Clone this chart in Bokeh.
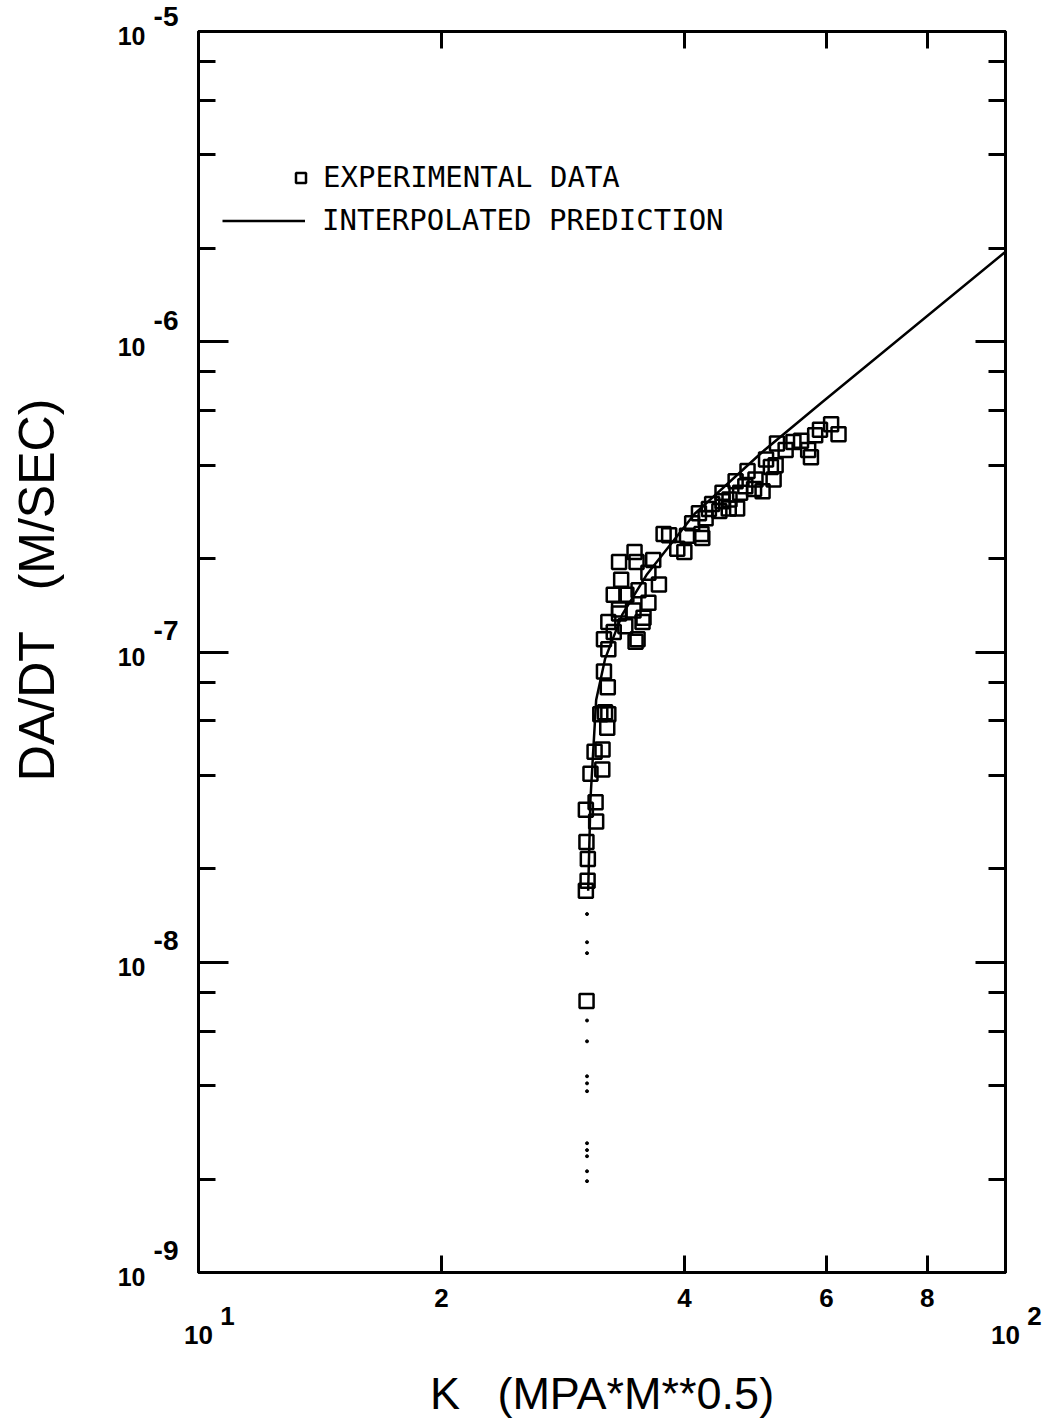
import json
import math
from bokeh.plotting import figure
from bokeh.models import (Range1d, LogAxis, FixedTicker, CustomJSTickFormatter,
                          Legend, LegendItem)
from bokeh.embed import file_html
from bokeh.resources import INLINE

# ---------------- data ----------------
exp_k = [30.26, 30.2, 30.35, 30.37, 30.25, 31.1, 30.2, 31.05, 30.6, 31.65,
         30.96, 31.67, 32.1, 31.9, 31.47, 32.2, 32.15, 31.8, 32.2, 32.7,
         33.2, 34.8, 35.5, 36.1, 31.8, 32.2, 33.8, 35.0, 33.2, 34.6,
         35.6, 37.2, 35.1, 36.1, 33.2, 34.9, 34.7, 37.7, 38.3, 40.3,
         42.0, 40.0, 40.9, 41.7, 42.5, 43.3, 44.2, 44.6, 45.5, 46.5,
         46.9, 47.6, 48.8, 50.5, 51.9, 51.6, 53.4, 54.6, 55.8, 56.95,
         58.1, 58.9, 60.8, 62.1, 57.4, 52.1, 51.2, 46.3, 45.4, 42.9,
         42.1, 44.6, 49.0, 47.9, 50.0, 33.4, 33.9, 32.7, 36.6, 39.2]
exp_rate = [7.5e-9, 1.70e-8, 1.83e-8, 2.15e-8, 2.44e-8, 2.84e-8, 3.1e-8, 3.28e-8, 4.05e-8, 4.18e-8,
            4.77e-8, 4.85e-8, 5.7e-8, 6.4e-8, 6.3e-8, 6.3e-8, 7.7e-8, 8.65e-8, 1.02e-7, 1.16e-7,
            1.33e-7, 1.08e-7, 1.25e-7, 1.44e-7, 1.1e-7, 1.25e-7, 1.21e-7, 1.1e-7, 1.37e-7, 1.36e-7,
            1.29e-7, 1.65e-7, 1.58e-7, 1.8e-7, 1.95e-7, 1.95e-7, 2.1e-7, 2.4e-7, 2.38e-7, 2.37e-7,
            2.4e-7, 2.1e-7, 2.6e-7, 2.8e-7, 2.7e-7, 3.0e-7, 2.85e-7, 3.26e-7, 3.1e-7, 2.9e-7,
            3.26e-7, 3.42e-7, 3.35e-7, 4.17e-7, 4.0e-7, 3.6e-7, 4.48e-7, 4.75e-7, 4.8e-7, 4.48e-7,
            5.0e-7, 5.2e-7, 5.42e-7, 5.03e-7, 4.24e-7, 4.7e-7, 3.95e-7, 3.55e-7, 2.9e-7, 2.89e-7,
            2.33e-7, 3.06e-7, 3.6e-7, 3.83e-7, 3.3e-7, 1.71e-7, 1.53e-7, 1.53e-7, 1.98e-7, 2.15e-7]

pred_k = [30.4, 30.6, 31.1, 31.9, 33.5, 35.9, 41.2, 50.0, 59.2, 100.0]
pred_rate = [1.7e-8, 3.36e-8, 7.0e-8, 9.5e-8, 1.32e-7, 1.77e-7, 2.79e-7, 4.42e-7, 6.37e-7, 1.95e-6]

tail_k = [30.3] * 13
tail_rate = [1.43e-8, 1.16e-8, 1.07e-8, 6.49e-9, 5.56e-9, 4.29e-9, 4.07e-9, 3.84e-9,
             2.61e-9, 2.48e-9, 2.37e-9, 2.12e-9, 1.97e-9]

y_decades = [1e-9, 1e-8, 1e-7, 1e-6, 1e-5]
y_exponents = ["-9", "-8", "-7", "-6", "-5"]
y_minor = [m * d for d in y_decades[:-1] for m in (2, 4, 6, 8)]
x_ticks = [20, 40, 60, 80]
x_tick_labels = ["2", "4", "6", "8"]
x_decades = [10, 100]
x_exponents = ["1", "2"]

legend_labels = ["EXPERIMENTAL DATA", "INTERPOLATED PREDICTION"]
x_title = "K  (MPA*M**0.5)"
y_title = "DA/DT  (M/SEC)"

NB = "\u00a0"

# ---------------- figure ----------------
p = figure(width=1042, height=1422, x_axis_type="log", y_axis_type="log",
           x_range=Range1d(10, 100), y_range=Range1d(1e-9, 1e-5),
           output_backend="svg", toolbar_location=None,
           min_border_left=198, min_border_right=37, min_border_top=31,
           min_border_bottom=149)
p.xgrid.visible = False
p.ygrid.visible = False
p.outline_line_color = "black"
p.outline_line_width = 3
p.background_fill_color = "white"
p.border_fill_color = "white"

bottom = p.xaxis[0]
left = p.yaxis[0]          # ticks + exponent labels
left_base = LogAxis()      # "10" labels + title
top = LogAxis()
right = LogAxis()
p.add_layout(left_base, "left")
p.add_layout(top, "above")
p.add_layout(right, "right")

empty = CustomJSTickFormatter(code="return '';")

# bottom axis: 2,4,6,8 and the two decade labels (10^1, 10^2)
bottom_map = {str(t): s for t, s in zip(x_ticks, x_tick_labels)}
for d, ex in zip(x_decades, x_exponents):
    bottom_map[str(d)] = NB + "\n" + NB * 8 + ex + "\n10"
bottom.ticker = FixedTicker(ticks=sorted(x_ticks + x_decades), minor_ticks=[])
bottom.formatter = CustomJSTickFormatter(
    code="const m = %s; const k = String(Math.round(tick)); return (k in m) ? m[k] : '';"
    % json.dumps(bottom_map))
bottom.major_label_standoff = 10
bottom.major_label_text_font = "Liberation Sans"
bottom.major_label_text_font_style = "bold"
bottom.major_label_text_font_size = "26px"
bottom.major_label_text_line_height = 0.63
bottom.major_label_text_color = "black"
bottom.axis_label = x_title.replace("  ", " " + NB + NB)
bottom.axis_label_standoff = 15
bottom.axis_label_text_font = "Liberation Sans"
bottom.axis_label_text_font_style = "normal"
bottom.axis_label_text_font_size = "45px"
bottom.axis_label_text_color = "black"

top.ticker = FixedTicker(ticks=x_ticks, minor_ticks=[])
for ax in (bottom, top):
    ax.major_tick_in = 17

# left axes: exponent labels next to frame, "10" further out
exp_map = {str(int(round(math.log10(d)))): ex + "\n" + NB for d, ex in zip(y_decades, y_exponents)}
left.ticker = FixedTicker(ticks=y_decades, minor_ticks=y_minor)
left.formatter = CustomJSTickFormatter(
    code="const m = %s; const k = String(Math.round(Math.log10(tick))); return (k in m) ? m[k] : '';"
    % json.dumps(exp_map))
left.major_label_standoff = 20
left.major_label_text_font = "Liberation Sans"
left.major_label_text_font_style = "bold"
left.major_label_text_font_size = "28px"
left.major_label_text_line_height = 1.4
left.major_label_text_color = "black"

left_base.ticker = FixedTicker(ticks=y_decades, minor_ticks=[])
left_base.formatter = CustomJSTickFormatter(code="return '" + NB + "\\n10';")
left_base.major_label_standoff = 5
left_base.major_label_text_font = "Liberation Sans"
left_base.major_label_text_font_style = "bold"
left_base.major_label_text_font_size = "25px"
left_base.major_label_text_line_height = 0.35
left_base.major_label_text_color = "black"
left_base.axis_line_color = None
left_base.major_tick_in = 0
left_base.major_tick_out = 0
left_base.minor_tick_in = 0
left_base.minor_tick_out = 0
left_base.axis_label = NB * 9 + y_title.replace("  ", " " + NB + NB)
left_base.axis_label_standoff = 50
left_base.axis_label_text_font = "Liberation Sans"
left_base.axis_label_text_font_style = "normal"
left_base.axis_label_text_font_size = "50px"
left_base.axis_label_text_color = "black"

right.ticker = FixedTicker(ticks=y_decades, minor_ticks=y_minor)
for ax in (left, right):
    ax.major_tick_in = 30
    ax.minor_tick_in = 17

for ax in (bottom, top, left, right):
    ax.axis_line_width = 3
    ax.axis_line_color = "black"
    ax.major_tick_out = 0
    ax.minor_tick_out = 0
    ax.major_tick_line_width = 3
    ax.minor_tick_line_width = 3
    ax.major_tick_line_color = "black"
    ax.minor_tick_line_color = "black"
for ax in (top, right):
    ax.formatter = empty
    ax.major_label_standoff = 0

# ---------------- data renderers ----------------
pred = p.line(pred_k, pred_rate, line_color="black", line_width=2.5)
tail = p.scatter(tail_k, tail_rate, marker="circle", size=3, color="black")
exp = p.scatter(exp_k, exp_rate, marker="square", size=14, fill_color=None,
                line_color="black", line_width=2.5)

# ---------------- legends ----------------
common = dict(margin=0, padding=0, border_line_color=None, background_fill_alpha=0,
              label_text_font="DejaVu Sans Mono", label_text_font_size="29px",
              label_text_color="black", label_height=25, glyph_height=25, spacing=0)
leg1 = Legend(items=[LegendItem(label=legend_labels[0], renderers=[exp])],
              location=(90, 1078), glyph_width=25, label_standoff=10, **common)
leg2 = Legend(items=[LegendItem(label=legend_labels[1], renderers=[pred])],
              location=(24, 1035), glyph_width=83, label_standoff=17, **common)
p.add_layout(leg1)
p.add_layout(leg2)

open("out.html", "w").write(file_html(p, INLINE))
